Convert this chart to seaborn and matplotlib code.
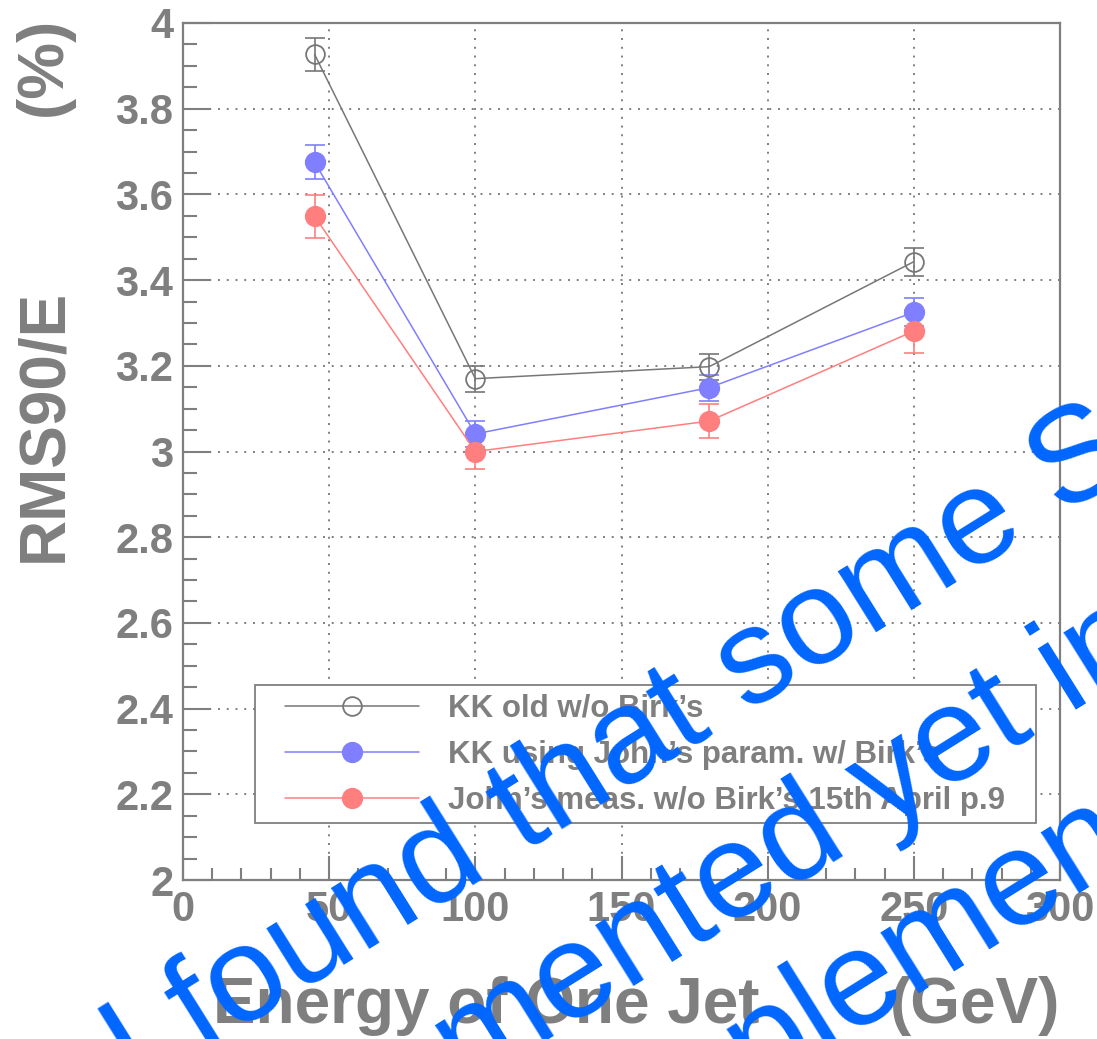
import matplotlib
matplotlib.use("Agg")
import matplotlib.pyplot as plt
from matplotlib.ticker import MultipleLocator, FuncFormatter
from matplotlib.lines import Line2D
from matplotlib.patches import Rectangle
import numpy as np
import pandas as pd
import seaborn as sns

# ---------------- data ----------------
energy = [45, 100, 180, 250]
kk_old = [3.927, 3.170, 3.198, 3.443]
kk_old_err = [0.038, 0.030, 0.030, 0.033]
kk_john = [3.675, 3.041, 3.149, 3.325]
kk_john_err = [0.040, 0.030, 0.030, 0.033]
john_meas = [3.549, 3.000, 3.071, 3.281]
john_meas_err = [0.050, 0.040, 0.040, 0.050]
series_labels = ["KK old w/o Birk’s",
                 "KK using John’s param. w/ Birk’s",
                 "John’s meas. w/o Birk’s 15th April p.9"]
x_title = "Energy of One Jet"
x_unit = "(GeV)"
y_title = "RMS90/E"
y_unit = "(%)"
note_lines = ["I found that some S", "implemented yet in", "implemented"]

# ---------------- style ----------------
sns.set_theme(style="white")
plt.rcParams["font.family"] = ["Liberation Sans", "DejaVu Sans"]
GRAY = "#7f7f7f"
LGRAY = "#777777"
BLUE = "#7f7fff"
RED = "#ff7f7f"
NOTE = "#0066ff"

W, H = 1097, 1039
fig = plt.figure(figsize=(W / 100, H / 100), dpi=100)
fig.patch.set_facecolor("white")

def fx(x):
    return x / W

def fy(y):
    return 1 - y / H

L, R, T, B = 183, 1060, 23, 880
ax = fig.add_axes([fx(L), fy(B), (R - L) / W, (B - T) / H])
ax.set_facecolor("white")

df = pd.DataFrame({"E": energy * 3,
                   "v": kk_old + kk_john + john_meas,
                   "s": [series_labels[0]] * 4 + [series_labels[1]] * 4 + [series_labels[2]] * 4})

styles = [
    dict(color=LGRAY, mfc="none", mec=LGRAY, err=kk_old_err, ms=13.5),
    dict(color=BLUE, mfc=BLUE, mec=BLUE, err=kk_john_err, ms=14),
    dict(color=RED, mfc=RED, mec=RED, err=john_meas_err, ms=14),
]

for lab, st in zip(series_labels, styles):
    sub = df[df["s"] == lab]
    ax.errorbar(sub["E"], sub["v"], yerr=st["err"], fmt="none", ecolor=st["color"],
                elinewidth=1.2, capsize=7, capthick=1.2, zorder=3)
    sns.lineplot(data=sub, x="E", y="v", ax=ax, color=st["color"], linewidth=1.1,
                 marker="o", markersize=st["ms"], markerfacecolor=st["mfc"],
                 markeredgecolor=st["mec"], markeredgewidth=1.3, zorder=4,
                 legend=False, errorbar=None)

ax.set_xlim(0, 300)
ax.set_ylim(2, 4)
ax.set_xlabel("")
ax.set_ylabel("")
ax.xaxis.set_major_locator(MultipleLocator(50))
ax.xaxis.set_minor_locator(MultipleLocator(10))
ax.yaxis.set_major_locator(MultipleLocator(0.2))
ax.yaxis.set_minor_locator(MultipleLocator(0.05))
fmt = FuncFormatter(lambda v, p: "%g" % round(v, 2))
ax.xaxis.set_major_formatter(fmt)
ax.yaxis.set_major_formatter(fmt)

ax.grid(True, which="major", color=GRAY, linestyle=(0, (1, 3.5)), linewidth=1.4, zorder=1)
ax.set_axisbelow(True)
for sp in ax.spines.values():
    sp.set_color(GRAY)
    sp.set_linewidth(1.6)
ax.tick_params(axis="both", which="both", direction="in", colors=GRAY,
               top=False, right=False, left=True, bottom=True, width=1.5)
ax.tick_params(axis="y", which="major", length=20, pad=7)
ax.tick_params(axis="y", which="minor", length=10)
ax.tick_params(axis="x", which="major", length=17, pad=7)
ax.tick_params(axis="x", which="minor", length=9)
for t in ax.get_xticklabels() + ax.get_yticklabels():
    t.set_fontsize(30)
    t.set_fontweight("bold")
    t.set_color(GRAY)

# axis titles
fig.text(fx(213), fy(1006), x_title, fontsize=46, fontweight="bold", color=GRAY,
         ha="left", va="center")
fig.text(fx(1060), fy(1006), x_unit, fontsize=46, fontweight="bold", color=GRAY,
         ha="right", va="center")
fig.text(fx(44), fy(425), y_title, fontsize=46, fontweight="bold", color=GRAY,
         ha="center", va="center", rotation=90)
fig.text(fx(44), fy(66), y_unit, fontsize=46, fontweight="bold", color=GRAY,
         ha="center", va="center", rotation=90)

# legend
handles = []
for st in styles:
    handles.append(Line2D([0], [0], color=st["color"], linewidth=1.1, marker="o",
                          markersize=st["ms"], markerfacecolor=st["mfc"],
                          markeredgecolor=st["mec"], markeredgewidth=1.3))
frame = Rectangle((fx(255), fy(823)), fx(1036) - fx(255), fy(685) - fy(823),
                  transform=fig.transFigure, facecolor="white", edgecolor=GRAY,
                  linewidth=1.3, zorder=5, clip_on=False)
ax.add_patch(frame)
leg = ax.legend(handles, series_labels, loc="center left",
                bbox_to_anchor=(fx(285), fy(755)), bbox_transform=fig.transFigure,
                frameon=False, borderpad=0, borderaxespad=0, handlelength=4.3,
                handletextpad=0.92, labelspacing=0.52,
                prop=dict(size=22.5, weight="bold"))
leg.set_zorder(6)
for t in leg.get_texts():
    t.set_color(GRAY)

# overlaid slide note
angle = 32
anchors = [(137, 1094), (190, 1263), (635, 1165)]
for txt, (px, py) in zip(note_lines, anchors):
    fig.text(fx(px), fy(py), txt, fontsize=98, color=NOTE, rotation=angle,
             rotation_mode="anchor", ha="left", va="baseline", zorder=10)

fig.savefig("out.png", dpi=100, facecolor="white")
